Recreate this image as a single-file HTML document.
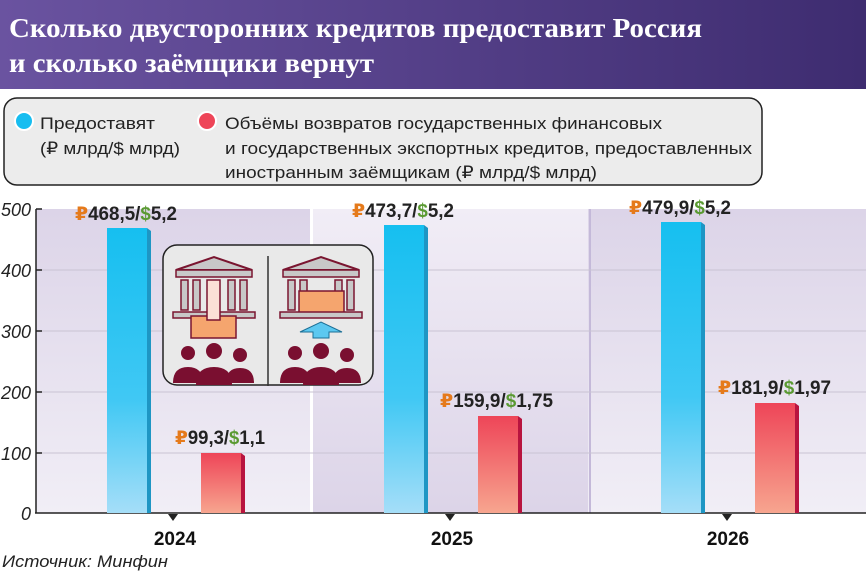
<!DOCTYPE html>
<html><head><meta charset="utf-8"><style>
body{margin:0;width:866px;height:574px;overflow:hidden;background:#fff;font-family:"Liberation Sans","DejaVu Sans",sans-serif}
</style></head><body>
<svg width="866" height="574" viewBox="0 0 866 574" xmlns="http://www.w3.org/2000/svg" font-family="Liberation Sans, DejaVu Sans, sans-serif">
<defs>
<linearGradient id="hd" x1="0" y1="0" x2="1" y2="0"><stop offset="0" stop-color="#6a53a0"/><stop offset="1" stop-color="#3e2c70"/></linearGradient>
<linearGradient id="p1" x1="0" y1="0" x2="0" y2="1"><stop offset="0" stop-color="#dcd4e8"/><stop offset="1" stop-color="#f1eef6"/></linearGradient>
<linearGradient id="p2" x1="0" y1="0" x2="0" y2="1"><stop offset="0" stop-color="#f1edf6"/><stop offset="1" stop-color="#dcd4e8"/></linearGradient>
<linearGradient id="bl" x1="0" y1="0" x2="0" y2="1"><stop offset="0" stop-color="#16bff0"/><stop offset="0.6" stop-color="#40c8f4"/><stop offset="1" stop-color="#a5def8"/></linearGradient>
<linearGradient id="rd" x1="0" y1="0" x2="0" y2="1"><stop offset="0" stop-color="#ee4558"/><stop offset="1" stop-color="#f7a58f"/></linearGradient>
</defs>
<rect x="0" y="0" width="866" height="89" fill="url(#hd)"/>
<text x="9" y="37" fill="#fff" font-family="Liberation Serif, serif" font-weight="bold" font-size="27" textLength="693" lengthAdjust="spacingAndGlyphs">Сколько двусторонних кредитов предоставит Россия</text>
<text x="9" y="72" fill="#fff" font-family="Liberation Serif, serif" font-weight="bold" font-size="27" textLength="365" lengthAdjust="spacingAndGlyphs">и сколько заёмщики вернут</text>
<rect x="4" y="98" width="758" height="87" rx="13" fill="#ececec" stroke="#222" stroke-width="1.5"/>
<circle cx="24" cy="121" r="9" fill="#17bdf0" stroke="#fff" stroke-width="2"/>
<circle cx="207" cy="121" r="9" fill="#ee4558" stroke="#fff" stroke-width="2"/>
<g font-size="17" fill="#222">
<text x="40" y="129" textLength="115" lengthAdjust="spacingAndGlyphs">Предоставят</text>
<text x="40" y="154" textLength="140" lengthAdjust="spacingAndGlyphs">(₽ млрд/$ млрд)</text>
<text x="225" y="129" textLength="437" lengthAdjust="spacingAndGlyphs">Объёмы возвратов государственных финансовых</text>
<text x="225" y="154" textLength="527" lengthAdjust="spacingAndGlyphs">и государственных экспортных кредитов, предоставленных</text>
<text x="225" y="178" textLength="372" lengthAdjust="spacingAndGlyphs">иностранным заёмщикам (₽ млрд/$ млрд)</text>
</g>
<rect x="36" y="209" width="274" height="304" fill="url(#p1)"/>
<rect x="313" y="209" width="275" height="304" fill="url(#p2)"/>
<rect x="588" y="209" width="278" height="304" fill="url(#p1)"/>
<rect x="310" y="209" width="3" height="304" fill="#fff"/>
<rect x="589" y="209" width="2" height="304" fill="#c4b9d9"/>
<g stroke="#c9c3d3" stroke-width="1">
<line x1="36" y1="453" x2="866" y2="453"/><line x1="36" y1="392" x2="866" y2="392"/><line x1="36" y1="331" x2="866" y2="331"/><line x1="36" y1="270" x2="866" y2="270"/>
</g>
<g stroke="#222" stroke-width="1.5">
<line x1="36" y1="209" x2="36" y2="513"/><line x1="35" y1="513" x2="866" y2="513"/>
<line x1="36" y1="209" x2="42" y2="209"/><line x1="36" y1="270" x2="42" y2="270"/><line x1="36" y1="331" x2="42" y2="331"/><line x1="36" y1="392" x2="42" y2="392"/><line x1="36" y1="453" x2="42" y2="453"/>
</g>
<g fill="#222"><path d="M168 514h10l-5 7z"/><path d="M445 514h10l-5 7z"/><path d="M722 514h10l-5 7z"/></g>
<g font-size="18" font-style="italic" fill="#222" text-anchor="end">
<text x="31" y="216">500</text><text x="31" y="277">400</text><text x="31" y="338">300</text><text x="31" y="399">200</text><text x="31" y="460">100</text><text x="31" y="520">0</text>
</g>
<!-- bars -->
<g>
<rect x="107" y="228" width="40" height="285" fill="url(#bl)"/><path d="M147 228l4 3v282h-4z" fill="#1e96c4"/>
<rect x="201" y="453" width="40" height="60" fill="url(#rd)"/><path d="M241 453l4 3v57h-4z" fill="#b8143f"/>
<rect x="384" y="225" width="40" height="288" fill="url(#bl)"/><path d="M424 225l4 3v285h-4z" fill="#1e96c4"/>
<rect x="478" y="416" width="40" height="97" fill="url(#rd)"/><path d="M518 416l4 3v94h-4z" fill="#b8143f"/>
<rect x="661" y="222" width="40" height="291" fill="url(#bl)"/><path d="M701 222l4 3v288h-4z" fill="#1e96c4"/>
<rect x="755" y="403" width="40" height="110" fill="url(#rd)"/><path d="M795 403l4 3v107h-4z" fill="#b8143f"/>
</g>
<g font-size="19" font-weight="bold" fill="#222">
<text x="75" y="220" textLength="102" lengthAdjust="spacingAndGlyphs"><tspan fill="#e57a1b">₽</tspan>468,5/<tspan fill="#5a9a32">$</tspan>5,2</text>
<text x="352" y="217" textLength="102" lengthAdjust="spacingAndGlyphs"><tspan fill="#e57a1b">₽</tspan>473,7/<tspan fill="#5a9a32">$</tspan>5,2</text>
<text x="629" y="214" textLength="102" lengthAdjust="spacingAndGlyphs"><tspan fill="#e57a1b">₽</tspan>479,9/<tspan fill="#5a9a32">$</tspan>5,2</text>
<text x="175" y="444" textLength="90" lengthAdjust="spacingAndGlyphs"><tspan fill="#e57a1b">₽</tspan>99,3/<tspan fill="#5a9a32">$</tspan>1,1</text>
<text x="440" y="407" textLength="113" lengthAdjust="spacingAndGlyphs"><tspan fill="#e57a1b">₽</tspan>159,9/<tspan fill="#5a9a32">$</tspan>1,75</text>
<text x="718" y="394" textLength="113" lengthAdjust="spacingAndGlyphs"><tspan fill="#e57a1b">₽</tspan>181,9/<tspan fill="#5a9a32">$</tspan>1,97</text>
</g>
<g font-size="19" font-weight="bold" fill="#111" text-anchor="middle">
<text x="175" y="545">2024</text><text x="452" y="545">2025</text><text x="728" y="545">2026</text>
</g>
<text x="2" y="567" font-size="17" font-style="italic" fill="#222" textLength="166" lengthAdjust="spacingAndGlyphs">Источник: Минфин</text>
<!-- icon box -->
<rect x="163" y="245" width="210" height="140" rx="14" fill="#e9e9e9" stroke="#222" stroke-width="1.5"/>
<line x1="268" y1="256" x2="268" y2="386" stroke="#333" stroke-width="1.5"/>
<g>
<path d="M176 270l38-13 38 13z" fill="#c8c8c8" stroke="#7a1530" stroke-width="2"/>
<rect x="176" y="270" width="76" height="7" fill="#c8c8c8" stroke="#7a1530" stroke-width="1.5"/>
<g fill="#c8c8c8" stroke="#7a1530" stroke-width="1.5"><rect x="181" y="280" width="7" height="30"/><rect x="193" y="280" width="7" height="30"/><rect x="228" y="280" width="7" height="30"/><rect x="240" y="280" width="7" height="30"/></g>
<rect x="173" y="312" width="82" height="6" fill="#c8c8c8" stroke="#7a1530" stroke-width="1.5"/>
<rect x="191" y="316" width="45" height="22" fill="#f5a56e" stroke="#7a1530" stroke-width="1.5"/>
<rect x="207" y="280" width="13" height="40" fill="#fbe0d6" stroke="#7a1530" stroke-width="1.5"/>
<path d="M283 270l38-13 38 13z" fill="#c8c8c8" stroke="#7a1530" stroke-width="2"/>
<rect x="283" y="270" width="76" height="7" fill="#c8c8c8" stroke="#7a1530" stroke-width="1.5"/>
<g fill="#c8c8c8" stroke="#7a1530" stroke-width="1.5"><rect x="288" y="280" width="7" height="30"/><rect x="300" y="280" width="7" height="30"/><rect x="335" y="280" width="7" height="30"/><rect x="347" y="280" width="7" height="30"/></g>
<rect x="299" y="291" width="45" height="22" fill="#f5a56e" stroke="#7a1530" stroke-width="1.5"/>
<rect x="280" y="312" width="82" height="6" fill="#c8c8c8" stroke="#7a1530" stroke-width="1.5"/>
<path d="M300 332l21-10 21 10h-13v6h-16v-6z" fill="#5cc8f0" stroke="#1c6f96" stroke-width="1"/>
<g fill="#7a0f30">
<circle cx="188" cy="353" r="7"/><path d="M173 383q0-16 15-16t15 16z"/>
<circle cx="214" cy="351" r="8"/><path d="M196 385q0-18 18-18t18 18z"/>
<circle cx="240" cy="355" r="7"/><path d="M226 383q0-15 14-15t14 15z"/>
<circle cx="295" cy="353" r="7"/><path d="M280 383q0-16 15-16t15 16z"/>
<circle cx="321" cy="351" r="8"/><path d="M303 385q0-18 18-18t18 18z"/>
<circle cx="347" cy="355" r="7"/><path d="M333 383q0-15 14-15t14 15z"/>
</g>
</g>
</svg>
</body></html>
